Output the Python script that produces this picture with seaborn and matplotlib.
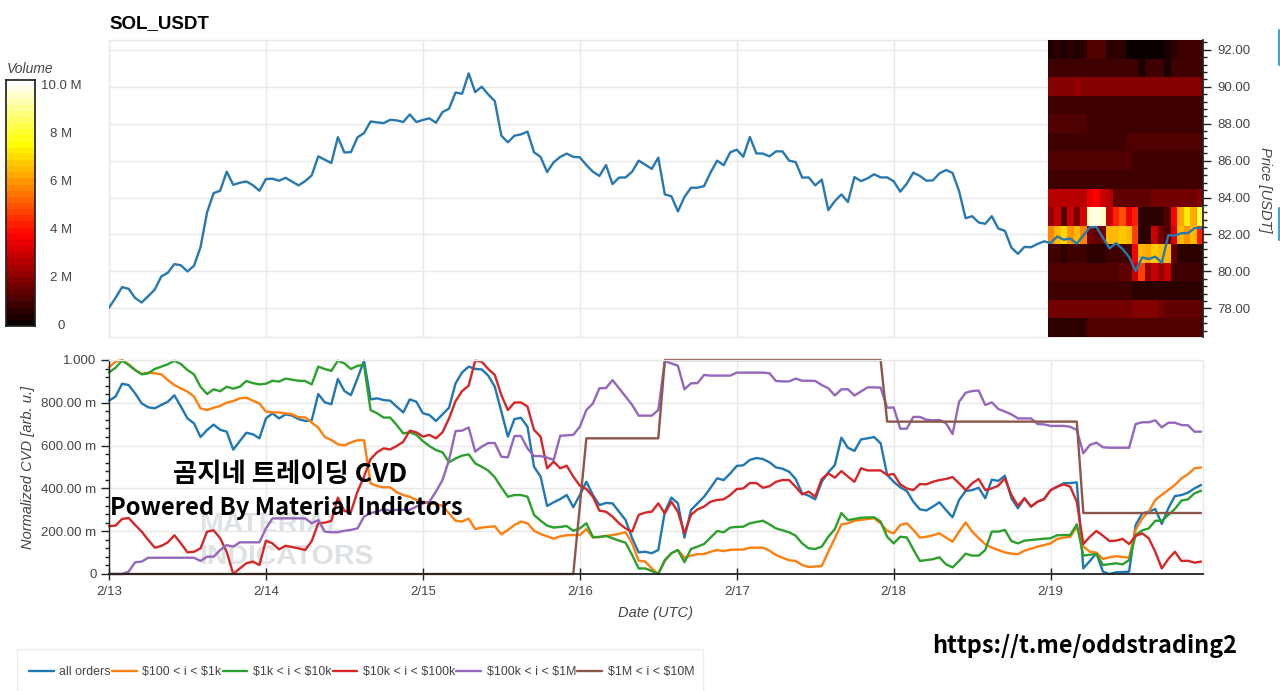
#!/usr/bin/env python3
"""SOL_USDT price with order book heat strip and normalized CVD by order size."""

import matplotlib

matplotlib.use("Agg")

import matplotlib.pyplot as plt
import pandas as pd
import seaborn as sns
from matplotlib.patches import Polygon, Rectangle
from matplotlib.ticker import FixedLocator, MultipleLocator

W, H = 1280, 691

HOURS = list(range(168))

# one row per day
PRICE = [
    78.03, 78.57, 79.15, 79.06, 78.56, 78.32, 78.66, 79.02, 79.73, 79.93, 80.40, 80.33, 80.00, 80.31, 81.32, 83.20, 84.24, 84.37, 85.40, 84.69, 84.80, 84.87, 84.67, 84.37,
    85.00, 85.02, 84.91, 85.07, 84.86, 84.66, 84.89, 85.20, 86.23, 86.05, 85.87, 87.27, 86.44, 86.46, 87.26, 87.49, 88.12, 88.07, 88.03, 88.21, 88.18, 88.09, 88.50, 88.09,
    88.20, 88.29, 88.05, 88.63, 88.81, 89.69, 89.62, 90.72, 89.71, 90.00, 89.58, 89.22, 87.35, 86.99, 87.35, 87.42, 87.57, 86.45, 86.20, 85.38, 85.91, 86.20, 86.38, 86.20,
    86.18, 85.76, 85.40, 85.17, 85.76, 84.73, 85.08, 85.09, 85.40, 86.00, 85.78, 85.55, 86.16, 84.17, 84.07, 83.25, 84.03, 84.53, 84.53, 84.62, 85.36, 86.00, 85.75, 86.45,
    86.59, 86.21, 87.28, 86.39, 86.38, 86.23, 86.50, 86.50, 86.00, 85.92, 85.08, 85.09, 84.66, 84.97, 83.32, 83.81, 84.17, 83.76, 85.11, 84.89, 85.04, 85.26, 85.09, 85.09,
    84.88, 84.32, 84.75, 85.35, 85.17, 84.91, 84.93, 85.31, 85.49, 85.33, 84.35, 82.88, 82.99, 82.65, 82.58, 82.99, 82.32, 82.20, 81.29, 80.95, 81.33, 81.31, 81.49, 81.63,
    81.54, 81.89, 81.72, 81.78, 81.51, 81.94, 82.39, 82.41, 81.82, 81.25, 81.53, 81.22, 80.78, 80.02, 80.76, 80.67, 80.80, 80.47, 81.96, 81.94, 82.07, 82.07, 82.34, 82.36,
]

# CVD values in milli-units
ALL_ORDERS = [
    810, 829, 889, 883, 844, 797, 779, 774, 790, 805, 835, 782, 727, 704, 640, 673, 698, 674, 665, 581, 621, 660, 653, 634,
    727, 751, 727, 746, 740, 724, 715, 718, 841, 802, 793, 911, 855, 836, 914, 997, 816, 821, 813, 810, 782, 755, 816, 805,
    751, 743, 715, 746, 777, 891, 942, 969, 958, 956, 927, 875, 759, 642, 724, 730, 688, 501, 455, 318, 335, 350, 369, 312,
    369, 431, 369, 322, 332, 330, 291, 252, 167, 101, 104, 97, 112, 291, 357, 330, 170, 299, 330, 361, 403, 447, 439, 470,
    505, 508, 533, 542, 537, 522, 498, 492, 478, 444, 377, 366, 349, 431, 475, 509, 637, 590, 575, 629, 634, 640, 611, 463,
    431, 405, 388, 338, 302, 297, 315, 335, 299, 265, 346, 388, 392, 403, 354, 441, 435, 459, 354, 307, 354, 315, 338, 350,
    392, 408, 424, 425, 428, 26, 61, 97, 11, 0, 8, 9, 11, 229, 283, 291, 304, 234, 307, 364, 369, 380, 400, 416,
]
BIN_100_1K = [
    966, 992, 1000, 980, 953, 935, 941, 938, 933, 906, 883, 868, 852, 829, 774, 766, 777, 785, 801, 808, 821, 824, 810, 797,
    759, 755, 755, 751, 746, 732, 732, 707, 684, 640, 626, 606, 601, 615, 625, 625, 424, 411, 405, 405, 382, 369, 361, 346,
    338, 330, 327, 319, 283, 249, 245, 259, 210, 217, 220, 223, 185, 206, 229, 245, 237, 202, 187, 176, 165, 176, 181, 182,
    182, 210, 170, 173, 178, 182, 188, 195, 143, 62, 58, 26, 0, 61, 97, 112, 76, 86, 93, 93, 104, 112, 107, 113,
    114, 114, 123, 123, 123, 109, 89, 76, 64, 61, 42, 33, 35, 37, 104, 167, 232, 237, 249, 253, 257, 260, 237, 201,
    190, 229, 237, 206, 170, 174, 181, 190, 170, 151, 198, 241, 198, 167, 139, 123, 112, 101, 95, 93, 109, 118, 128, 135,
    143, 164, 170, 174, 221, 128, 104, 100, 70, 78, 83, 80, 76, 206, 260, 291, 346, 370, 393, 416, 447, 466, 494, 498,
]
BIN_1K_10K = [
    942, 964, 997, 977, 953, 933, 938, 958, 969, 980, 997, 981, 953, 933, 875, 841, 863, 854, 875, 866, 875, 902, 892, 886,
    889, 903, 899, 913, 908, 903, 902, 886, 969, 958, 949, 997, 984, 958, 973, 977, 766, 751, 731, 731, 696, 657, 662, 650,
    621, 598, 579, 569, 522, 540, 553, 559, 517, 501, 483, 452, 405, 361, 369, 369, 361, 276, 249, 226, 217, 220, 224, 202,
    213, 237, 173, 173, 178, 167, 156, 146, 89, 26, 26, 14, 0, 65, 97, 112, 55, 117, 128, 140, 170, 201, 195, 217,
    220, 221, 237, 243, 249, 232, 213, 204, 195, 179, 143, 120, 117, 128, 174, 210, 285, 252, 257, 263, 264, 265, 245, 174,
    143, 174, 171, 115, 61, 65, 69, 78, 45, 31, 61, 95, 86, 86, 112, 198, 198, 206, 154, 143, 156, 159, 162, 165,
    167, 181, 182, 182, 232, 86, 90, 93, 42, 46, 50, 45, 65, 182, 204, 213, 249, 249, 276, 304, 343, 349, 377, 389,
]
BIN_10K_100K = [
    224, 226, 257, 262, 229, 198, 159, 123, 131, 148, 181, 143, 101, 104, 120, 198, 204, 167, 104, 0, 26, 50, 58, 42,
    156, 143, 115, 132, 126, 120, 112, 154, 237, 240, 248, 357, 294, 291, 385, 455, 537, 569, 587, 582, 598, 618, 670, 662,
    642, 650, 634, 662, 727, 808, 855, 880, 997, 992, 958, 930, 836, 766, 801, 802, 782, 673, 642, 494, 525, 494, 506, 455,
    413, 397, 361, 296, 291, 268, 237, 213, 198, 276, 287, 291, 330, 283, 338, 291, 190, 276, 302, 315, 338, 346, 349, 369,
    397, 400, 425, 425, 403, 410, 431, 439, 439, 408, 372, 385, 361, 444, 470, 450, 481, 455, 431, 494, 484, 484, 484, 463,
    467, 419, 400, 392, 420, 419, 431, 439, 444, 453, 424, 392, 424, 444, 392, 400, 413, 447, 369, 319, 354, 315, 338, 350,
    392, 408, 419, 408, 338, 140, 174, 201, 179, 154, 156, 164, 140, 178, 190, 167, 104, 26, 70, 104, 61, 62, 53, 58,
]
BIN_100K_1M = [
    0, 0, 0, 11, 55, 58, 76, 76, 76, 76, 76, 76, 76, 76, 61, 81, 81, 112, 135, 128, 148, 148, 148, 148,
    213, 260, 260, 260, 260, 260, 260, 237, 252, 198, 195, 195, 202, 206, 213, 268, 285, 291, 304, 295, 300, 300, 300, 315,
    330, 338, 385, 439, 533, 668, 670, 685, 572, 595, 612, 612, 548, 545, 645, 645, 587, 551, 551, 544, 533, 646, 648, 650,
    688, 766, 797, 868, 869, 906, 868, 829, 790, 740, 740, 740, 766, 995, 984, 973, 863, 891, 892, 930, 927, 927, 927, 927,
    941, 941, 941, 941, 941, 938, 902, 900, 900, 913, 903, 903, 902, 883, 868, 834, 863, 863, 834, 853, 872, 872, 871, 777,
    778, 679, 679, 734, 734, 721, 718, 720, 704, 654, 805, 847, 855, 857, 790, 802, 771, 759, 746, 727, 727, 727, 701, 699,
    692, 692, 692, 688, 673, 564, 603, 614, 592, 590, 590, 590, 590, 701, 709, 709, 718, 685, 707, 707, 696, 695, 665, 665,
]
BIN_1M_10M_HOURS = [0, 71, 73, 84, 85, 118, 119, 148, 149, 167]
BIN_1M_10M = [0, 0, 634, 634, 1000, 1000, 712, 712, 285, 285]

SERIES_NAMES = [
    "all orders",
    r"\$100 < i < \$1k",
    r"\$1k < i < \$10k",
    r"\$10k < i < \$100k",
    r"\$100k < i < \$1M",
    r"\$1M < i < \$10M",
]
SERIES_COLORS = ["#1f77b4", "#ff7f0e", "#2ca02c", "#d62728", "#9467bd", "#8c564b"]

DAY_TICKS = [0, 24, 48, 72, 96, 120, 144]
DAY_LABELS = ["2/13", "2/14", "2/15", "2/16", "2/17", "2/18", "2/19"]
PRICE_TICKS = [78, 80, 82, 84, 86, 88, 90, 92]
CVD_TICKS = [0, 200, 400, 600, 800, 1000]
CVD_LABELS = ["0", "200.00 m", "400.00 m", "600.00 m", "800.00 m", "1.000"]
VOLUME_TICKS = [0, 2, 4, 6, 8, 10]
VOLUME_LABELS = ["0", "2 M", "4 M", "6 M", "8 M", "10.0 M"]

# resting volume in millions, price bands from 92 down to 77, one column per hour
HEAT_PRICES = [92, 91, 90, 89, 88, 87, 86, 85, 84, 83, 82, 81, 80, 79, 78, 77]
HEAT_VOLUME = [
    [.4, .5, .4, .5, .4, .5, 1.0, 1.0, 1.0, .6, .5, .6, .1, .1, .05, .05, .1, .1, .2, .5, .9, .9, .9, .9],
    [.9, .9, .9, .9, .9, .9, .9, .9, .9, .9, .9, .9, .9, .9, .2, .7, .8, .7, .4, .8, .8, .8, .8, .8],
    [1.9, 1.9, 1.9, 1.9, 2.0, 1.9, 1.8, 1.8, 1.8, 1.8, 1.8, 1.8, 1.8, 1.8, 1.8, 1.8, 1.8, 1.8, 1.8, 1.8, 1.8, 1.8, 1.8, 1.8],
    [.7, .7, .7, .7, .7, .7, .7, .7, .7, .7, .7, .7, .7, .7, .7, .7, .7, .7, .7, .7, .7, .7, .7, .7],
    [.95, .95, .95, .95, .95, .95, .7, .7, .7, .7, .7, .7, .7, .7, .7, .7, .7, .7, .7, .7, .7, .7, .7, .7],
    [.9, .9, .9, .9, .9, .9, .9, .9, .9, .9, .9, .9, 1.05, 1.05, 1.05, 1.05, 1.05, 1.05, 1.05, 1.05, 1.05, 1.05, 1.05, 1.05],
    [1.1, 1.1, 1.1, 1.1, 1.15, 1.1, 1.1, 1.1, .95, .95, .95, .95, .95, .8, .8, .8, .8, .8, .8, .8, .8, .8, .8, .8],
    [.8, .8, .8, .8, .8, .8, .8, .8, .8, .8, .8, .8, .8, .7, .7, .7, .7, .7, .7, .7, .7, .7, .7, .7],
    [2.6, 2.7, 2.6, 2.6, 2.7, 2.6, 3.4, 3.6, 2.8, 2.7, 1.3, 1.3, 1.3, 1.3, 1.4, 1.4, 1.5, 1.7, 1.5, 1.5, 1.7, 1.7, 1.5, 1.9],
    [2.0, 2.8, 1.2, 3.0, 1.5, 3.2, 9.6, 9.8, 9.6, 3.0, 4.2, 5.0, 3.4, 4.2, .6, .5, .5, .6, 1.0, 3.6, 6.2, 7.2, 6.2, 8.2],
    [5.6, 6.6, 7.0, 6.0, 6.6, 5.6, 1.5, 1.4, 1.6, 6.4, 6.6, 6.8, 6.4, 4.6, .5, .6, 3.0, 1.5, 1.2, 3.2, 6.6, 6.0, 6.6, 4.2],
    [.7, .8, .6, .8, .7, .8, .6, .5, .6, .8, .8, .8, .9, 3.6, 6.6, 6.2, 6.8, 6.4, 6.6, 1.4, .6, .6, .6, .6],
    [1.2, 1.2, 1.2, 1.2, 1.2, 1.2, 1.2, 1.2, 1.2, 1.2, 1.2, 1.3, 1.3, 3.0, 4.6, 2.0, 3.0, 2.0, 3.0, .8, .7, .7, .7, .7],
    [.7, .7, .7, .7, .7, .7, .7, .7, .7, .7, .7, .7, .7, .6, .5, .5, .5, .5, .5, .5, .5, .5, .5, .5],
    [1.5, 1.5, 1.5, 1.5, 1.5, 1.5, 1.5, 1.5, 1.5, 1.5, 1.5, 1.5, 1.6, 1.9, 1.9, 1.9, 1.9, 1.5, 1.4, 1.4, 1.4, 1.4, 1.4, 1.4],
    [.6, .6, .6, .6, .6, .6, 1.0, 1.0, 1.0, 1.0, 1.0, 1.0, 1.0, 1.0, 1.0, 1.0, 1.0, 1.1, 1.2, 1.2, 1.2, 1.2, 1.2, 1.2],
]

GRID = "#e8e8e8"
LABEL = "#444444"


def px_axes(fig, left, top, right, bottom, **kwargs):
    """Axes placed by pixel box, y counted from the top of the image."""
    rect = [left / W, 1 - bottom / H, (right - left) / W, (bottom - top) / H]
    return fig.add_axes(rect, **kwargs)


def fx(x):
    return x / W


def fy(y):
    return 1 - y / H


def light_frame(ax):
    for spine in ax.spines.values():
        spine.set_color(GRID)
        spine.set_linewidth(1)


def draw_price(fig):
    xlim = (0, 167.3)
    ylim = (76.45, 92.53)

    back = px_axes(fig, 109, 40, 1203, 337, zorder=1)
    back.set_xlim(xlim)
    back.set_ylim(ylim)
    back.set_xticks(DAY_TICKS)
    back.set_yticks(PRICE_TICKS)
    back.grid(True, color=GRID, lw=1.0)
    back.tick_params(length=0, labelbottom=False, labelleft=False)
    light_frame(back)

    heat = pd.DataFrame(HEAT_VOLUME, index=HEAT_PRICES)
    heat_ax = px_axes(fig, 1048, 40, 1203, 337, zorder=2)
    cbar_ax = px_axes(fig, 6, 80, 35, 326, zorder=2)
    sns.heatmap(
        heat,
        ax=heat_ax,
        cbar_ax=cbar_ax,
        cmap=plt.get_cmap("hot", 40),
        vmin=-0.08,
        vmax=10.2,
        xticklabels=False,
        yticklabels=False,
    )
    heat_ax.set_xlabel("")
    heat_ax.set_ylabel("")

    cbar_ax.set_yticks(VOLUME_TICKS)
    cbar_ax.set_yticklabels(VOLUME_LABELS, ha="center")
    cbar_ax.tick_params(axis="y", direction="in", length=4, width=1, color="#222222",
                        labelcolor=LABEL, labelsize=9.5, pad=19, right=True, left=False)
    for spine in cbar_ax.spines.values():
        spine.set_visible(True)
        spine.set_color("#222222")
    fig.text(fx(7), fy(69), "Volume", style="italic", color=LABEL, fontsize=10, va="center")

    ax = px_axes(fig, 109, 40, 1203, 337, zorder=3)
    ax.patch.set_alpha(0)
    df = pd.DataFrame({"hour": HOURS, "price": PRICE})
    sns.lineplot(data=df, x="hour", y="price", color="#2878b0", lw=1.7, ax=ax,
                 estimator=None, sort=False)
    ax.set_xlim(xlim)
    ax.set_ylim(ylim)
    ax.set_xlabel("")
    ax.set_ylabel("")
    ax.grid(False)
    ax.set_xticks([])
    for side in ("top", "left", "bottom"):
        ax.spines[side].set_visible(False)
    ax.spines["right"].set_color("#222222")
    ax.yaxis.tick_right()
    ax.set_yticks(PRICE_TICKS)
    ax.set_yticklabels([f"{p:.2f}" for p in PRICE_TICKS])
    ax.yaxis.set_minor_locator(MultipleLocator(0.4))
    ax.tick_params(axis="y", which="major", direction="out", length=6, width=1,
                   color="#222222", labelcolor=LABEL, labelsize=9.5, pad=4)
    ax.tick_params(axis="y", which="minor", direction="out", length=3, width=1, color="#222222")
    fig.text(fx(1265), fy(190), "Price [USDT]", style="italic", color=LABEL, fontsize=10.5,
             rotation=-90, ha="center", va="center")
    fig.text(fx(109), fy(24), "SOL_USDT", weight="bold", color="black", fontsize=13.5, va="center")


def draw_cvd(fig):
    ax = px_axes(fig, 109, 360, 1203, 574, zorder=1)
    light_frame(ax)

    # faded watermark sits under the lines
    fig.add_artist(Polygon(
        [[fx(112), fy(570)], [fx(142), fy(545)], [fx(172), fy(568)], [fx(150), fy(572)]],
        closed=True, color="#e3e7e8", zorder=0.5))
    for y, word in ((525, "MATERIAL"), (557, "INDICATORS")):
        ax.text(((199 - 109) / 6.54), 1000 * (574 - y) / 214, word, color="#dfe2e4", weight="bold",
                family=["Liberation Sans Narrow", "Liberation Sans"], fontsize=20.5, va="center", zorder=0.5)

    frames = []
    columns = [ALL_ORDERS, BIN_100_1K, BIN_1K_10K, BIN_10K_100K, BIN_100K_1M]
    for name, values in zip(SERIES_NAMES, columns):
        frames.append(pd.DataFrame({"hour": HOURS, "cvd": values, "series": name}))
    frames.append(pd.DataFrame({"hour": BIN_1M_10M_HOURS, "cvd": BIN_1M_10M, "series": SERIES_NAMES[5]}))
    df = pd.concat(frames, ignore_index=True)

    sns.lineplot(data=df, x="hour", y="cvd", hue="series", hue_order=SERIES_NAMES,
                 palette=SERIES_COLORS, lw=1.7, ax=ax, estimator=None, sort=False, zorder=2,
                 clip_on=False)
    handles, labels = ax.get_legend_handles_labels()
    ax.get_legend().remove()

    ax.set_xlim(0, 167.3)
    ax.set_ylim(0, 1000)
    ax.set_xlabel("")
    ax.set_ylabel("")
    ax.set_xticks(DAY_TICKS)
    ax.set_xticklabels(DAY_LABELS)
    ax.set_yticks(CVD_TICKS)
    ax.set_yticklabels(CVD_LABELS)
    ax.yaxis.set_minor_locator(FixedLocator(list(range(0, 1001, 40))))
    ax.grid(True, which="major", color=GRID, lw=1.0)
    ax.grid(False, which="minor")
    ax.spines["left"].set_color("#222222")
    ax.spines["bottom"].set_color("#222222")
    ax.spines["bottom"].set_linewidth(1.3)
    ax.tick_params(axis="x", which="major", direction="inout", length=9, width=1, color="#222222",
                   labelcolor=LABEL, labelsize=9.5, pad=4, bottom=True)
    ax.tick_params(axis="y", which="major", direction="out", length=6, width=1, color="#222222",
                   labelcolor=LABEL, labelsize=9.5, pad=3, left=True)
    ax.tick_params(axis="y", which="minor", direction="out", length=3, width=1, color="#222222", left=True)

    fig.text(fx(656), fy(613), "Date (UTC)", style="italic", color=LABEL, fontsize=10.5, ha="center", va="center")
    fig.text(fx(28), fy(467), "Normalized CVD [arb. u.]", style="italic", color=LABEL, fontsize=10.5,
             rotation=90, ha="center", va="center")

    fig.add_artist(Rectangle((fx(17), fy(692)), (703 - 17) / W, 43 / H, transform=fig.transFigure,
                             facecolor="white", edgecolor="#eeeeee", lw=1))
    fig.legend(handles, labels, ncol=6, loc="center left", bbox_to_anchor=(fx(29), fy(672)),
               frameon=False, fontsize=8.9, labelcolor=LABEL, handlelength=2.0, handletextpad=0.45,
               columnspacing=0.1, borderpad=0, borderaxespad=0)


def draw_overlay(fig):
    cjk = ["Noto Sans CJK KR", "DejaVu Sans"]
    fig.text(fx(290), fy(475), "곰지네 트레이딩 CVD", family=cjk, weight="bold", fontsize=19,
             ha="center", va="center", color="black", zorder=10)
    fig.text(fx(110), fy(508), "Powered By Material Indictors", family=cjk, weight="bold", fontsize=17.1,
             ha="left", va="center", color="black", zorder=10)
    fig.text(fx(932), fy(646), "https://t.me/oddstrading2", family=cjk, weight="bold", fontsize=16.8,
             ha="left", va="center", color="black", zorder=10)
    # cut-off widget edges on the right of the screenshot
    for top, bottom in ((30, 65), (208, 240)):
        fig.add_artist(plt.Line2D([fx(1279), fx(1279)], [fy(top), fy(bottom)], color="#4a9fd0", lw=1.5))


def main():
    sns.set_theme(style="whitegrid")
    plt.rcParams["font.family"] = ["Liberation Sans", "DejaVu Sans"]
    plt.rcParams["axes.unicode_minus"] = False

    fig = plt.figure(figsize=(W / 100, H / 100), dpi=100, facecolor="white")
    draw_price(fig)
    draw_cvd(fig)
    draw_overlay(fig)
    fig.savefig("out.png", dpi=100)
    plt.close(fig)


if __name__ == "__main__":
    main()
